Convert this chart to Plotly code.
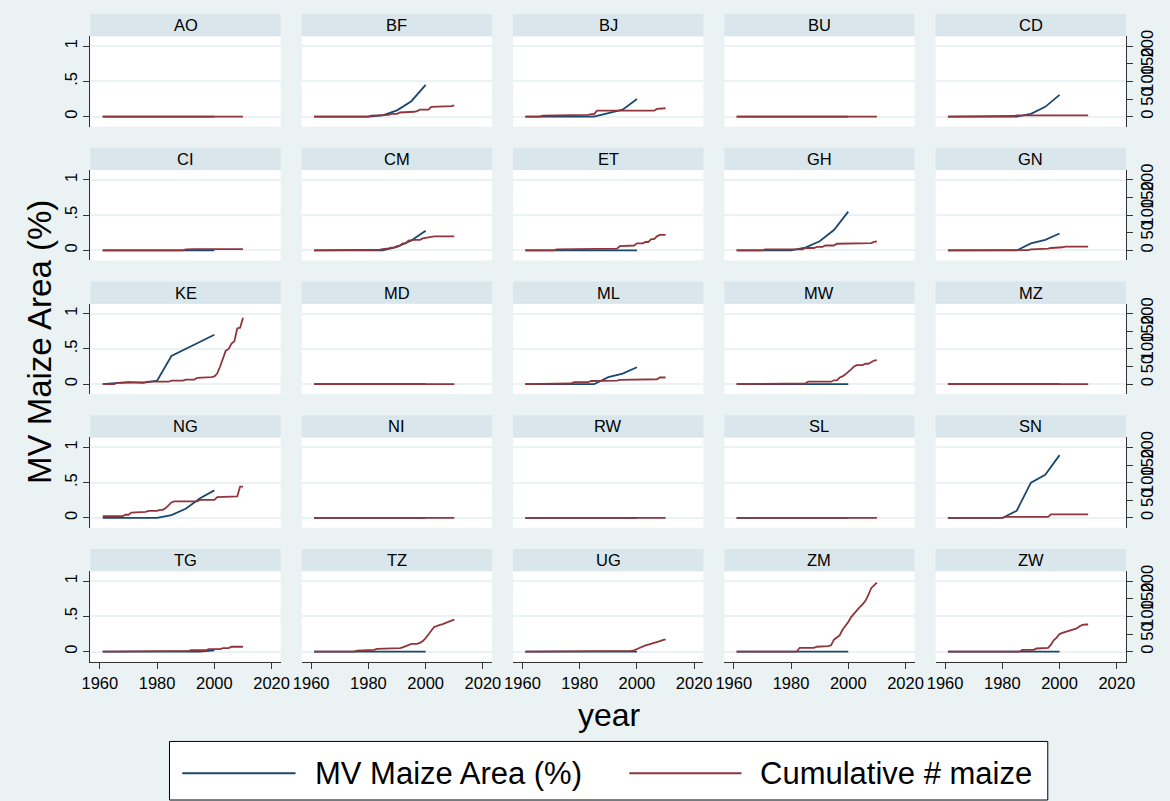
import plotly.graph_objects as go

# ---- data -------------------------------------------------------------
countries = ["AO", "BF", "BJ", "BU", "CD",
             "CI", "CM", "ET", "GH", "GN",
             "KE", "MD", "ML", "MW", "MZ",
             "NG", "NI", "RW", "SL", "SN",
             "TG", "TZ", "UG", "ZM", "ZW"]

# MV maize area share (0-1), observed every five years
mv_years = [1961, 1965, 1970, 1975, 1980, 1985, 1990, 1995, 2000]
mv_AO = [0, 0, 0, 0, 0, 0, 0, 0, 0]
mv_BF = [0, 0, 0, 0, 0, 0.02, 0.09, 0.22, 0.45]
mv_BJ = [0, 0, 0, 0, 0, 0, 0.05, 0.10, 0.25]
mv_BU = [0, 0, 0, 0, 0, 0, 0, 0, 0]
mv_CD = [0, 0, 0, 0, 0, 0, 0.04, 0.14, 0.31]
mv_CI = [0, 0, 0, 0, 0, 0, 0, 0, 0]
mv_CM = [0, 0, 0, 0, 0, 0, 0.05, 0.14, 0.28]
mv_ET = [0, 0, 0, 0, 0, 0, 0, 0, 0]
mv_GH = [0, 0, 0, 0, 0, 0.04, 0.13, 0.29, 0.55]
mv_GN = [0, 0, 0, 0, 0, 0, 0.10, 0.15, 0.24]
mv_KE = [0, 0.01, 0.03, 0.02, 0.05, 0.40, 0.50, 0.60, 0.70]
mv_MD = [0, 0, 0, 0, 0, 0, 0, 0, 0]
mv_ML = [0, 0, 0, 0, 0, 0, 0.10, 0.15, 0.24]
mv_MW = [0, 0, 0, 0, 0, 0, 0, 0, 0]
mv_MZ = [0, 0, 0, 0, 0, 0, 0, 0, 0]
mv_NG = [0, 0, 0, 0, 0, 0.04, 0.13, 0.28, 0.39]
mv_NI = [0, 0, 0, 0, 0, 0, 0, 0, 0]
mv_RW = [0, 0, 0, 0, 0, 0, 0, 0, 0]
mv_SL = [0, 0, 0, 0, 0, 0, 0, 0, 0]
mv_SN = [0, 0, 0, 0, 0, 0.10, 0.50, 0.61, 0.89]
mv_TG = [0, 0, 0, 0, 0, 0, 0, 0, 0.02]
mv_TZ = [0, 0, 0, 0, 0, 0, 0, 0, 0]
mv_UG = [0, 0, 0, 0, 0, 0, 0, 0, 0]
mv_ZM = [0, 0, 0, 0, 0, 0, 0, 0, 0]
mv_ZW = [0, 0, 0, 0, 0, 0, 0, 0, 0]

# cumulative number of maize varieties released, 1961-2010 (one row per decade)
cum_years = list(range(1961, 2011))
cum_AO = [0, 0, 0, 0, 0, 0, 0, 0, 0, 0,
          0, 0, 0, 0, 0, 0, 0, 0, 0, 0,
          0, 0, 0, 0, 0, 0, 0, 0, 0, 0,
          0, 0, 0, 0, 0, 0, 0, 0, 0, 0,
          0, 0, 0, 0, 0, 0, 0, 0, 0, 0]
cum_BF = [0, 0, 0, 0, 0, 0, 0, 0, 0, 0,
          0, 0, 0, 0, 0, 0, 0, 0, 0, 0,
          3, 3, 3, 3, 3, 5, 5, 8, 8, 8,
          12, 12, 12, 12, 14, 14, 16, 20, 20, 20,
          20, 28, 28, 28, 30, 30, 30, 30, 30, 32]
cum_BJ = [0, 0, 0, 0, 0, 0, 3, 3, 3, 3,
          3, 3, 3, 3, 3, 3, 3, 3, 3, 3,
          3, 5, 5, 7, 7, 17, 17, 17, 17, 17,
          17, 17, 17, 17, 17, 17, 17, 17, 17, 17,
          17, 17, 17, 17, 17, 17, 22, 22, 24, 24]
cum_BU = [0, 0, 0, 0, 0, 0, 0, 0, 0, 0,
          0, 0, 0, 0, 0, 0, 0, 0, 0, 0,
          0, 0, 0, 0, 0, 0, 0, 0, 0, 0,
          0, 0, 0, 0, 0, 0, 0, 0, 0, 0,
          0, 0, 0, 0, 0, 0, 0, 0, 0, 0]
cum_CD = [0, 0, 0, 0, 0, 0, 0, 0, 0, 2,
          2, 2, 2, 2, 2, 2, 2, 2, 2, 2,
          2, 2, 2, 2, 4, 4, 4, 4, 4, 4,
          4, 4, 4, 4, 4, 4, 4, 4, 4, 4,
          4, 4, 4, 4, 4, 4, 4, 4, 4, 4]
cum_CI = [0, 0, 0, 0, 0, 0, 0, 0, 0, 0,
          0, 0, 0, 0, 0, 0, 0, 0, 0, 0,
          0, 0, 0, 0, 0, 0, 0, 0, 0, 3,
          4, 4, 4, 4, 4, 4, 4, 4, 4, 4,
          4, 4, 4, 4, 4, 4, 4, 4, 4, 4]
cum_CM = [0, 0, 0, 0, 0, 0, 0, 0, 0, 0,
          0, 0, 0, 0, 0, 0, 0, 0, 0, 0,
          0, 0, 0, 2, 4, 4, 6, 8, 8, 12,
          14, 20, 20, 28, 30, 30, 30, 30, 34, 36,
          38, 40, 40, 40, 40, 40, 40, 40, 40, 40]
cum_ET = [0, 0, 0, 0, 0, 0, 0, 0, 0, 0,
          0, 3, 3, 3, 3, 3, 3, 3, 3, 3,
          3, 3, 3, 3, 3, 3, 5, 5, 5, 5,
          5, 5, 5, 12, 12, 12, 14, 14, 14, 20,
          20, 20, 24, 24, 32, 32, 40, 44, 44, 44]
cum_GH = [0, 0, 0, 0, 0, 0, 0, 0, 0, 0,
          3, 3, 3, 3, 3, 3, 3, 3, 3, 3,
          3, 3, 3, 3, 7, 7, 7, 7, 10, 10,
          10, 14, 14, 14, 14, 19, 19, 19, 19, 19,
          19, 19, 19, 19, 19, 21, 21, 21, 24, 26]
cum_GN = [0, 0, 0, 0, 0, 0, 0, 0, 1, 1,
          1, 1, 1, 1, 1, 1, 1, 1, 1, 1,
          1, 1, 1, 1, 1, 1, 1, 1, 1, 3,
          3, 3, 3, 5, 5, 5, 7, 7, 9, 9,
          9, 11, 11, 11, 11, 11, 11, 11, 11, 11]
cum_KE = [0, 0, 0, 0, 0, 4, 4, 4, 4, 4,
          6, 6, 6, 6, 6, 6, 7, 7, 7, 7,
          7, 7, 7, 7, 10, 10, 10, 10, 10, 13,
          13, 13, 13, 18, 18, 18, 20, 20, 20, 22,
          30, 50, 72, 95, 100, 115, 122, 158, 160, 188]
cum_MD = [0, 0, 0, 0, 0, 0, 0, 0, 0, 0,
          0, 0, 0, 0, 0, 0, 0, 0, 0, 0,
          0, 0, 0, 0, 0, 0, 0, 0, 0, 0,
          0, 0, 0, 0, 0, 0, 0, 0, 0, 0,
          0, 0, 0, 0, 0, 0, 0, 0, 0, 0]
cum_ML = [0, 0, 0, 0, 0, 0, 0, 0, 2, 2,
          2, 2, 2, 2, 2, 2, 2, 6, 6, 6,
          6, 6, 6, 9, 9, 9, 9, 10, 10, 10,
          10, 10, 10, 12, 12, 12, 12, 12, 12, 12,
          12, 12, 12, 12, 12, 14, 14, 19, 19, 19]
cum_MW = [0, 0, 0, 0, 0, 2, 2, 2, 2, 2,
          2, 2, 2, 2, 2, 2, 2, 2, 2, 2,
          2, 2, 2, 2, 2, 7, 7, 7, 7, 7,
          7, 7, 7, 7, 11, 11, 19, 22, 28, 34,
          42, 50, 54, 54, 54, 58, 58, 62, 67, 68]
cum_MZ = [0, 0, 0, 0, 0, 0, 0, 0, 0, 0,
          0, 0, 0, 0, 0, 0, 0, 0, 0, 0,
          0, 0, 0, 0, 0, 0, 0, 0, 0, 0,
          0, 0, 0, 0, 0, 0, 0, 0, 0, 0,
          0, 0, 0, 0, 0, 0, 0, 0, 0, 0]
cum_NG = [5, 5, 5, 5, 5, 5, 5, 5, 9, 9,
          15, 15, 17, 17, 17, 17, 20, 20, 20, 20,
          23, 23, 28, 36, 44, 47, 47, 47, 47, 47,
          47, 47, 47, 47, 51, 51, 51, 51, 51, 51,
          59, 59, 59, 59, 59, 59, 59, 61, 89, 89]
cum_NI = [0, 0, 0, 0, 0, 0, 0, 0, 0, 0,
          0, 0, 0, 0, 0, 0, 0, 0, 0, 0,
          0, 0, 0, 0, 0, 0, 0, 0, 0, 0,
          0, 0, 0, 0, 0, 0, 0, 0, 0, 0,
          0, 0, 0, 0, 0, 0, 0, 0, 0, 0]
cum_RW = [0, 0, 0, 0, 0, 0, 0, 0, 0, 0,
          0, 0, 0, 0, 0, 0, 0, 0, 0, 0,
          0, 0, 0, 0, 0, 0, 0, 0, 0, 0,
          0, 0, 0, 0, 0, 0, 0, 0, 0, 0,
          0, 0, 0, 0, 0, 0, 0, 0, 0, 0]
cum_SL = [0, 0, 0, 0, 0, 0, 0, 0, 0, 0,
          0, 0, 0, 0, 0, 0, 0, 0, 0, 0,
          0, 0, 0, 0, 0, 0, 0, 0, 0, 0,
          0, 0, 0, 0, 0, 0, 0, 0, 0, 0,
          0, 0, 0, 0, 0, 0, 0, 0, 0, 0]
cum_SN = [0, 0, 0, 0, 0, 0, 0, 0, 0, 0,
          0, 0, 0, 0, 0, 0, 0, 0, 0, 0,
          3, 3, 3, 3, 3, 3, 3, 3, 3, 3,
          3, 3, 3, 3, 3, 3, 10, 10, 10, 10,
          10, 10, 10, 10, 10, 10, 10, 10, 10, 10]
cum_TG = [0, 0, 0, 0, 0, 0, 0, 0, 0, 0,
          0, 0, 0, 0, 0, 0, 0, 0, 0, 0,
          0, 0, 0, 0, 2, 2, 2, 2, 2, 2,
          2, 4, 4, 4, 4, 4, 4, 7, 7, 7,
          7, 7, 10, 10, 10, 14, 14, 14, 14, 14]
cum_TZ = [0, 0, 0, 0, 0, 0, 0, 0, 0, 0,
          0, 0, 0, 0, 0, 3, 3, 5, 5, 5,
          5, 5, 8, 8, 8, 8, 8, 8, 8, 10,
          10, 12, 15, 20, 22, 22, 22, 25, 30, 38,
          50, 60, 70, 74, 76, 78, 82, 85, 88, 91]
cum_UG = [0, 0, 0, 0, 0, 0, 0, 0, 0, 0,
          0, 0, 0, 0, 0, 0, 0, 0, 0, 0,
          0, 0, 0, 0, 0, 0, 0, 0, 0, 0,
          0, 0, 0, 0, 0, 0, 0, 2, 4, 8,
          12, 16, 18, 20, 22, 25, 28, 30, 33, 35]
cum_ZM = [0, 0, 0, 0, 0, 0, 0, 0, 0, 0,
          0, 0, 0, 0, 0, 0, 0, 0, 0, 0,
          0, 0, 11, 11, 11, 11, 11, 11, 14, 14,
          16, 16, 16, 18, 34, 40, 46, 62, 72, 84,
          98, 108, 116, 126, 134, 144, 160, 180, 188, 196]
cum_ZW = [0, 0, 0, 0, 0, 0, 0, 0, 0, 0,
          0, 0, 0, 0, 0, 0, 0, 0, 0, 0,
          0, 0, 0, 0, 0, 0, 5, 5, 5, 5,
          5, 9, 9, 9, 9, 11, 20, 33, 40, 50,
          53, 56, 59, 62, 64, 66, 72, 76, 77, 77]

mv_by_country = {
    "AO": mv_AO, "BF": mv_BF, "BJ": mv_BJ, "BU": mv_BU, "CD": mv_CD,
    "CI": mv_CI, "CM": mv_CM, "ET": mv_ET, "GH": mv_GH, "GN": mv_GN,
    "KE": mv_KE, "MD": mv_MD, "ML": mv_ML, "MW": mv_MW, "MZ": mv_MZ,
    "NG": mv_NG, "NI": mv_NI, "RW": mv_RW, "SL": mv_SL, "SN": mv_SN,
    "TG": mv_TG, "TZ": mv_TZ, "UG": mv_UG, "ZM": mv_ZM, "ZW": mv_ZW,
}
cum_by_country = {
    "AO": cum_AO, "BF": cum_BF, "BJ": cum_BJ, "BU": cum_BU, "CD": cum_CD,
    "CI": cum_CI, "CM": cum_CM, "ET": cum_ET, "GH": cum_GH, "GN": cum_GN,
    "KE": cum_KE, "MD": cum_MD, "ML": cum_ML, "MW": cum_MW, "MZ": cum_MZ,
    "NG": cum_NG, "NI": cum_NI, "RW": cum_RW, "SL": cum_SL, "SN": cum_SN,
    "TG": cum_TG, "TZ": cum_TZ, "UG": cum_UG, "ZM": cum_ZM, "ZW": cum_ZW,
}

x_ticks = [1960, 1980, 2000, 2020]
left_ticks = [0, 0.5, 1]
left_tick_text = ["0", ".5", "1"]
right_ticks = [0, 50, 100, 150, 200]

# ---- style ------------------------------------------------------------
W, H = 1170, 801
BG = "#EAF2F3"
STRIP = "#D9E6EB"
BLUE = "#1A476F"
RED = "#90353B"
AXIS = "#333333"
FONT = "Liberation Sans, Arial, sans-serif"
TICK_SIZE = 16.5

X_RANGE = [1956.7, 2023.2]
LEFT_RANGE = [-0.14, 1.14]
RIGHT_RANGE = [LEFT_RANGE[0] * 200, LEFT_RANGE[1] * 200]

COL_X0, COL_STEP, PANEL_W = 82.7, 214.6, 193.3
ROW_TOP, ROW_STEP, PANEL_H, STRIP_H = 30.5, 134.75, 91.0, 22.5


def fx(px):
    return px / W


def fy(py):
    return 1 - py / H


fig = go.Figure()
shapes = []
annotations = []

for k, code in enumerate(countries):
    r, c = divmod(k, 5)
    n = k + 1
    x0 = COL_X0 + COL_STEP * c
    x1 = x0 + PANEL_W
    top = ROW_TOP + ROW_STEP * r
    bot = top + PANEL_H

    xname = "x" if n == 1 else f"x{n}"
    yname = "y" if n == 1 else f"y{n}"
    y2name = f"y{25 + n}"

    fig.add_trace(go.Scatter(
        x=mv_years, y=mv_by_country[code], mode="lines",
        line=dict(color=BLUE, width=1.8), xaxis=xname, yaxis=yname,
        name="MV Maize Area (%)", showlegend=False, hoverinfo="skip"))
    fig.add_trace(go.Scatter(
        x=cum_years, y=cum_by_country[code], mode="lines",
        line=dict(color=RED, width=1.8), xaxis=xname, yaxis=y2name,
        name="Cumulative # maize", showlegend=False, hoverinfo="skip"))

    bottom_row = r == 4
    first_col = c == 0
    last_col = c == 4
    tick_font = dict(family=FONT, size=TICK_SIZE, color="black")

    xaxis = dict(
        domain=[fx(x0), fx(x1)], anchor=yname, range=X_RANGE,
        tickvals=x_ticks, showgrid=False, zeroline=False,
        showticklabels=bottom_row, ticks="outside" if bottom_row else "",
        ticklen=6, tickcolor=AXIS, showline=bottom_row, linecolor=AXIS,
        linewidth=1.3, tickfont=tick_font, fixedrange=True)
    yaxis = dict(
        domain=[fy(bot), fy(top)], anchor=xname, range=LEFT_RANGE,
        tickvals=left_ticks, ticktext=left_tick_text,
        showgrid=True, gridcolor=BG, gridwidth=2, zeroline=False,
        showticklabels=first_col, ticks="outside" if first_col else "",
        ticklen=6, tickcolor=AXIS, tickangle=-90,
        showline=first_col, linecolor=AXIS, linewidth=1.3,
        tickfont=tick_font, fixedrange=True)
    y2axis = dict(
        overlaying=yname, anchor=xname, side="right", range=RIGHT_RANGE,
        tickvals=right_ticks, showgrid=False, zeroline=False,
        showticklabels=last_col, ticks="outside" if last_col else "",
        ticklen=6, tickcolor=AXIS, tickangle=-90,
        showline=last_col, linecolor=AXIS, linewidth=1.3,
        tickfont=tick_font, fixedrange=True)

    fig.layout["xaxis" if n == 1 else f"xaxis{n}"] = xaxis
    fig.layout["yaxis" if n == 1 else f"yaxis{n}"] = yaxis
    fig.layout[f"yaxis{25 + n}"] = y2axis

    # panel header strip with the country code
    shapes.append(dict(type="rect", xref="paper", yref="paper",
                       x0=fx(x0), x1=fx(x1), y0=fy(top), y1=fy(top - STRIP_H),
                       fillcolor=STRIP, line=dict(width=0), layer="below"))
    annotations.append(dict(text=code, xref="paper", yref="paper",
                            x=fx((x0 + x1) / 2), y=fy(top - STRIP_H / 2),
                            xanchor="center", yanchor="middle", showarrow=False,
                            font=dict(family=FONT, size=16.5, color="black")))

# axis titles
annotations.append(dict(text="year", xref="paper", yref="paper",
                        x=fx(610), y=fy(714), xanchor="center", yanchor="middle",
                        showarrow=False,
                        font=dict(family=FONT, size=32, color="black")))
annotations.append(dict(text="MV Maize Area (%)", xref="paper", yref="paper",
                        x=fx(31), y=fy(339), xanchor="center", yanchor="middle",
                        textangle=-90, showarrow=False,
                        font=dict(family=FONT, size=33, color="black")))

# legend box
LEG_Y = 773
shapes.append(dict(type="rect", xref="paper", yref="paper",
                   x0=fx(163), x1=fx(1055), y0=fy(800), y1=fy(741),
                   fillcolor="white", line=dict(color="black", width=1)))
shapes.append(dict(type="line", xref="paper", yref="paper",
                   x0=fx(176), x1=fx(291), y0=fy(LEG_Y), y1=fy(LEG_Y),
                   line=dict(color=BLUE, width=2)))
shapes.append(dict(type="line", xref="paper", yref="paper",
                   x0=fx(630), x1=fx(744), y0=fy(LEG_Y), y1=fy(LEG_Y),
                   line=dict(color=RED, width=2)))
annotations.append(dict(text="MV Maize Area (%)", xref="paper", yref="paper",
                        x=fx(309), y=fy(LEG_Y), xanchor="left", yanchor="middle",
                        showarrow=False,
                        font=dict(family=FONT, size=31, color="black")))
annotations.append(dict(text="Cumulative # maize", xref="paper", yref="paper",
                        x=fx(761), y=fy(LEG_Y), xanchor="left", yanchor="middle",
                        showarrow=False,
                        font=dict(family=FONT, size=31, color="black")))

fig.update_layout(
    width=W, height=H, autosize=False,
    margin=dict(l=0, r=0, t=0, b=0, pad=0),
    paper_bgcolor=BG, plot_bgcolor="white",
    showlegend=False, shapes=shapes, annotations=annotations,
    font=dict(family=FONT, color="black"),
)

fig.write_html("out.html", config={"displayModeBar": False})
